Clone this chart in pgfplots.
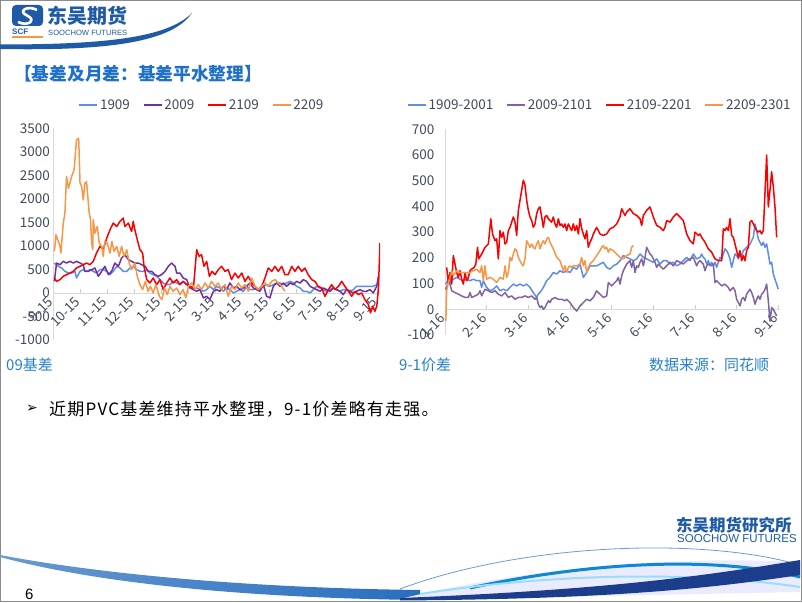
\documentclass[border=0pt]{standalone}
\usepackage{pgfplots}
\pgfplotsset{compat=1.18}
\usepackage{fontspec}
\setmainfont{Noto Sans CJK SC}
\newfontfamily\bodyfont[LetterSpace=7]{Noto Sans CJK SC}
\newfontfamily\lib{Liberation Sans}
\newfontfamily\dv{DejaVu Sans}
\definecolor{tickc}{RGB}{64,72,90}
\definecolor{capblue}{RGB}{38,128,205}
\definecolor{titleblue}{RGB}{31,112,200}
\definecolor{logoblue}{RGB}{31,90,166}
\definecolor{cBlue}{RGB}{95,140,230}
\definecolor{cPurple}{RGB}{112,48,160}
\definecolor{cPurple2}{RGB}{128,100,162}
\definecolor{cRed}{RGB}{250,0,0}
\definecolor{cOrange}{RGB}{247,150,70}
\definecolor{navy}{RGB}{28,60,140}
\definecolor{wave}{RGB}{40,110,190}
\pgfplotsset{
  base/.style={
    scale only axis,
    axis x line=middle, axis y line=left,
    axis line style={-, draw=black!15, line width=0.8pt},
    x axis line style={-}, y axis line style={-},
    every inner x axis line/.append style={-},
    every outer y axis line/.append style={-},
    hide obscured x ticks=false,
    tick label style={font=\fontsize{13.5}{14}\selectfont, text=tickc},
    /pgf/number format/assume math mode=true,
    /pgf/number format/1000 sep={},
    xticklabel style={anchor=east, rotate=45, yshift=-3pt, xshift=-3pt},
    xtick style={draw=black!20, line width=0.6pt},
    ytick style={draw=none},
    tick align=inside, major tick length=4pt,
    every axis plot/.append style={line width=1.5pt, line join=round, mark=none},
    legend columns=4,
    legend style={draw=none, fill=none, font=\fontsize{13.5}{14}\selectfont, text=tickc,
      /tikz/every even column/.append style={column sep=11pt}},
    legend image code/.code={\draw[##1, line width=1.5pt] (0pt,0pt) -- (18pt,0pt);},
  }
}
\begin{document}
\begin{tikzpicture}[x=1pt,y=1pt]
\path (0,0) rectangle (802,602);
% frame
\draw[black!45, line width=1pt] (0.5,0.5) rectangle (801.5,601.5);
% header logo
\fill[logoblue, rounded corners=4pt] (12,576) rectangle (43,597);
\draw[white, line width=2.6pt] (37,592) .. controls (28,597) and (17,591) .. (27,586.5) .. controls (37,582) and (28,575) .. (18,580);
\node[anchor=west, text=logoblue, font=\lib\bfseries\fontsize{8}{8}\selectfont, inner sep=0] at (12,570) {SCF};
\draw[cOrange, line width=1.2pt] (12,565) -- (43,565);
\node[anchor=west, text=logoblue, font=\bfseries\fontsize{20}{20}\selectfont, inner sep=0] at (47,586) {东吴期货};
\node[anchor=west, text=logoblue, font=\lib\fontsize{7.6}{8}\selectfont, inner sep=0] at (48,569.5) {SOOCHOW FUTURES};
\fill[logoblue] (0,553) .. controls (110,551) and (172,560) .. (192,589) .. controls (168,565) and (110,557.5) .. (0,557.5) -- cycle;
% title
\node[anchor=west, text=titleblue, font=\bfseries\fontsize{17.7}{18}\selectfont, inner sep=0] at (14,528) {【基差及月差：基差平水整理】};
% captions
\node[anchor=west, text=capblue, font=\fontsize{15}{16}\selectfont, inner sep=0] at (6,237) {09基差};
\node[anchor=west, text=capblue, font=\fontsize{15}{16}\selectfont, inner sep=0] at (399,237) {9-1价差};
\node[anchor=west, text=capblue, font=\fontsize{15}{16}\selectfont, inner sep=0] at (649,237) {数据来源：同花顺};
% bullet
\node[anchor=west, font=\dv\fontsize{14}{14}\selectfont, inner sep=0] at (26,193) {➢};
\node[anchor=west, font=\bodyfont\fontsize{17}{18}\selectfont, inner sep=0] at (49,193) {近期PVC基差维持平水整理，9-1价差略有走强。};
% page number
\node[anchor=south west, font=\lib\fontsize{15}{15}\selectfont, inner sep=0] at (25,2) {6};
% bottom waves
\shade[left color=wave!70, right color=wave] (0,47) .. controls (100,28) and (250,14) .. (420,12) -- (420,2) .. controls (250,4) and (100,18) .. (0,45) -- cycle;
\fill[blue!8] (400,3) .. controls (550,40) and (700,45) .. (800,40) -- (800,10) -- (400,2) -- cycle;
\draw[cyan!50!blue!60, line width=0.8pt] (400,13) .. controls (520,58) and (700,66) .. (800,37);
\draw[cyan!70!blue, line width=3pt] (470,14) .. controls (600,42) and (720,45) .. (800,25);
\draw[cyan!40, line width=2pt] (420,8) .. controls (560,30) and (700,30) .. (800,15);
\fill[navy] (400,4) .. controls (600,12) and (700,25) .. (800,42) -- (800,27) .. controls (700,12) and (600,3) .. (400,1.5) -- cycle;
\node[anchor=west, text=logoblue, font=\bfseries\fontsize{16.5}{17}\selectfont, inner sep=0] at (676,77) {东吴期货研究所};
\node[anchor=west, text=logoblue, font=\lib\fontsize{11.5}{12}\selectfont, inner sep=0] at (677,63) {SOOCHOW FUTURES};
% ---------------- left chart
\begin{axis}[base, at={(53.3pt,262pt)}, anchor=south west,
  width=326.7pt, height=211.7pt,
  xmin=0, xmax=12.1, ymin=-1000, ymax=3500,
  ytick={-1000,-500,0,500,1000,1500,2000,2500,3000,3500},
  xtick={0,...,12},
  xticklabels={9-15,10-15,11-15,12-15,1-15,2-15,3-15,4-15,5-15,6-15,7-15,8-15,9-15},
  legend style={at={(0.455,1.109)}, anchor=center}]
\addplot[cBlue] coordinates {(0.04,636)(0.19,566)(0.31,530)(0.43,460)(0.56,424)(0.68,424)(0.80,460)(0.86,318)(0.99,460)(1.11,495)(1.23,460)(1.36,495)(1.48,460)(1.60,424)(1.73,495)(1.85,495)(1.98,460)(2.10,389)(2.22,460)(2.35,566)(2.47,530)(2.59,460)(2.72,460)(2.84,530)(2.96,566)(3.09,495)(3.21,460)(3.33,460)(3.46,495)(3.58,424)(3.70,389)(3.83,354)(3.95,283)(4.07,212)(4.20,177)(4.32,177)(4.44,247)(4.57,212)(4.69,177)(4.81,247)(4.94,177)(5.06,141)(5.19,71)(5.31,106)(5.43,71)(5.56,35)(5.68,71)(5.80,141)(5.93,71)(6.05,141)(6.17,106)(6.30,35)(6.42,106)(6.54,71)(6.67,0)(6.79,35)(6.91,71)(7.04,35)(7.16,141)(7.28,71)(7.41,71)(7.53,106)(7.65,71)(7.78,141)(7.90,177)(8.02,141)(8.15,177)(8.27,212)(8.40,212)(8.52,177)(8.64,212)(8.77,247)(8.89,212)(9.01,141)(9.14,106)(9.26,35)(9.38,35)(9.51,0)(9.63,71)(9.75,141)(9.88,106)(10.00,71)(10.12,35)(10.25,71)(10.37,106)(10.49,71)(10.62,35)(10.74,71)(10.86,71)(10.99,35)(11.11,71)(11.23,141)(11.36,141)(11.48,141)(11.60,141)(11.73,141)(11.85,141)(11.98,177)(12.04,212)};
\addlegendentry{1909}
\addplot[cPurple] coordinates {(0.04,247)(0.12,636)(0.25,601)(0.37,672)(0.49,636)(0.62,672)(0.74,636)(0.86,672)(0.99,636)(1.11,601)(1.17,460)(1.30,460)(1.42,495)(1.54,530)(1.67,354)(1.79,460)(1.91,566)(2.04,389)(2.16,460)(2.28,636)(2.41,566)(2.53,742)(2.65,813)(2.78,707)(2.90,672)(3.02,636)(3.15,636)(3.27,601)(3.40,566)(3.52,460)(3.64,460)(3.77,389)(3.89,354)(4.01,389)(4.14,460)(4.26,566)(4.38,636)(4.51,566)(4.57,424)(4.69,424)(4.81,318)(4.94,283)(5.06,106)(5.19,71)(5.31,35)(5.43,71)(5.56,-106)(5.68,-71)(5.80,-141)(5.93,35)(6.05,71)(6.17,35)(6.30,141)(6.42,71)(6.54,212)(6.67,106)(6.79,141)(6.91,71)(7.04,106)(7.16,141)(7.28,212)(7.41,106)(7.53,71)(7.65,35)(7.78,177)(7.90,-71)(8.02,-106)(8.15,141)(8.27,212)(8.40,141)(8.52,212)(8.64,141)(8.77,212)(8.89,177)(9.01,247)(9.14,212)(9.26,283)(9.38,247)(9.51,141)(9.63,106)(9.75,71)(9.88,35)(10.00,106)(10.12,71)(10.25,35)(10.37,106)(10.49,71)(10.62,35)(10.74,-35)(10.86,71)(10.99,35)(11.11,0)(11.23,35)(11.36,71)(11.48,35)(11.60,35)(11.73,71)(11.85,0)(11.98,141)(12.04,354)};
\addlegendentry{2009}
\addplot[cRed] coordinates {(0.04,318)(0.12,247)(0.25,283)(0.37,354)(0.49,389)(0.62,424)(0.74,460)(0.86,530)(0.99,566)(1.11,601)(1.23,636)(1.36,601)(1.48,672)(1.60,848)(1.73,990)(1.85,919)(1.98,1167)(2.10,1343)(2.22,1485)(2.35,1414)(2.47,1520)(2.59,1591)(2.65,1414)(2.78,1485)(2.90,1308)(2.96,1520)(3.02,1343)(3.11,1131)(3.21,919)(3.31,848)(3.36,566)(3.46,283)(3.58,212)(3.70,318)(3.83,177)(3.95,283)(4.07,71)(4.20,212)(4.32,318)(4.44,212)(4.57,283)(4.69,177)(4.81,247)(4.94,177)(5.06,141)(5.19,106)(5.31,919)(5.40,778)(5.49,813)(5.58,566)(5.68,672)(5.78,354)(5.88,460)(5.99,389)(6.11,495)(6.23,566)(6.36,460)(6.48,495)(6.60,283)(6.73,424)(6.85,318)(6.98,424)(7.10,247)(7.22,354)(7.35,212)(7.47,141)(7.59,71)(7.72,141)(7.84,318)(7.96,530)(8.09,460)(8.21,566)(8.33,460)(8.46,566)(8.58,389)(8.70,389)(8.83,566)(8.95,460)(9.07,566)(9.20,460)(9.32,530)(9.44,389)(9.57,283)(9.69,247)(9.81,141)(9.94,106)(10.06,-71)(10.19,71)(10.31,177)(10.43,71)(10.56,141)(10.68,247)(10.80,141)(10.93,35)(11.05,-71)(11.17,35)(11.30,-35)(11.42,0)(11.54,-141)(11.67,-247)(11.75,-424)(11.83,-283)(11.91,-389)(11.98,-283)(12.04,71)(12.10,1060)};
\addlegendentry{2109}
\addplot[cOrange] coordinates {(0.04,884)(0.10,1237)(0.25,990)(0.28,848)(0.37,1485)(0.43,1697)(0.49,2475)(0.56,2227)(0.68,2475)(0.77,2616)(0.86,3252)(0.94,3288)(0.99,2333)(1.05,2262)(1.11,1980)(1.17,2333)(1.23,2368)(1.33,1697)(1.38,1555)(1.42,1060)(1.46,919)(1.48,1555)(1.54,1273)(1.63,1414)(1.70,1060)(1.79,990)(1.85,778)(1.91,1096)(2.00,1060)(2.10,848)(2.17,1096)(2.25,884)(2.35,990)(2.44,778)(2.53,990)(2.62,778)(2.72,919)(2.81,636)(2.90,495)(3.02,636)(3.11,354)(3.21,177)(3.31,71)(3.41,247)(3.51,35)(3.60,141)(3.70,0)(3.80,177)(3.93,-71)(4.02,-141)(4.12,106)(4.22,-35)(4.32,141)(4.44,35)(4.57,106)(4.69,-35)(4.81,71)(4.91,-106)(5.00,141)(5.12,212)(5.25,71)(5.37,177)(5.49,71)(5.62,212)(5.74,106)(5.86,247)(5.99,141)(6.11,212)(6.23,71)(6.36,177)(6.48,-71)(6.60,141)(6.73,71)(6.85,212)(6.98,106)(7.10,177)(7.22,35)(7.35,318)(7.47,141)(7.59,71)(7.72,141)(7.84,212)(7.96,141)(8.09,247)(8.21,283)(8.33,212)(8.46,141)(8.58,35)};
\addlegendentry{2209}
\end{axis}
% ---------------- right chart
\begin{axis}[base, at={(445pt,267pt)}, anchor=south west,
  width=335.4pt, height=205.7pt,
  xmin=0, xmax=8.05, ymin=-100, ymax=700,
  ytick={-100,0,100,200,300,400,500,600,700},
  yticklabel style={xshift=-7pt},
  xtick={0,...,8},
  xticklabels={1-16,2-16,3-16,4-16,5-16,6-16,7-16,8-16,9-16},
  legend style={at={(0.462,1.118)}, anchor=center}]
\addplot[cBlue] coordinates {(0.00,98)(0.04,104)(0.08,117)(0.12,104)(0.20,117)(0.28,124)(0.36,117)(0.44,111)(0.52,117)(0.60,111)(0.68,117)(0.76,111)(0.84,111)(0.88,85)(0.92,111)(1.00,85)(1.08,72)(1.16,78)(1.24,91)(1.32,72)(1.40,78)(1.48,72)(1.56,85)(1.64,98)(1.72,91)(1.80,98)(1.88,91)(1.96,98)(2.04,85)(2.12,65)(2.20,46)(2.24,59)(2.28,65)(2.36,85)(2.44,111)(2.52,124)(2.60,143)(2.68,137)(2.76,150)(2.84,143)(2.92,150)(3.00,143)(3.08,163)(3.16,156)(3.24,176)(3.32,124)(3.40,143)(3.48,169)(3.56,169)(3.64,169)(3.72,176)(3.80,183)(3.88,163)(3.96,156)(4.04,169)(4.12,176)(4.20,189)(4.28,209)(4.36,202)(4.44,196)(4.52,189)(4.60,196)(4.68,215)(4.76,202)(4.84,196)(4.92,189)(5.00,183)(5.08,196)(5.16,176)(5.24,189)(5.32,189)(5.40,176)(5.48,183)(5.56,169)(5.64,176)(5.72,189)(5.80,202)(5.88,189)(5.96,215)(6.04,196)(6.12,202)(6.16,215)(6.20,202)(6.24,196)(6.28,176)(6.32,189)(6.36,169)(6.40,183)(6.44,169)(6.48,183)(6.52,163)(6.56,183)(6.60,202)(6.64,196)(6.68,215)(6.72,235)(6.76,228)(6.80,215)(6.84,196)(6.88,163)(6.92,189)(6.96,215)(7.00,209)(7.04,196)(7.08,215)(7.12,209)(7.16,228)(7.24,241)(7.32,254)(7.40,280)(7.44,332)(7.48,306)(7.52,274)(7.56,261)(7.60,248)(7.64,261)(7.68,241)(7.72,254)(7.76,215)(7.80,176)(7.84,183)(7.88,137)(7.92,117)(7.96,98)(8.00,78)};
\addlegendentry{1909-2001}
\addplot[cPurple2] coordinates {(0.00,78)(0.04,85)(0.08,111)(0.12,98)(0.16,72)(0.24,65)(0.32,59)(0.40,52)(0.48,46)(0.56,46)(0.60,65)(0.64,46)(0.72,52)(0.80,59)(0.84,72)(0.88,52)(0.96,78)(1.04,72)(1.12,65)(1.20,72)(1.28,59)(1.36,52)(1.44,65)(1.52,46)(1.60,52)(1.68,39)(1.76,46)(1.84,46)(1.92,52)(2.00,46)(2.08,52)(2.16,39)(2.20,46)(2.24,20)(2.28,7)(2.32,13)(2.36,0)(2.40,7)(2.44,20)(2.48,33)(2.52,26)(2.56,39)(2.64,46)(2.72,39)(2.80,39)(2.88,33)(2.92,39)(3.00,26)(3.08,7)(3.16,-7)(3.24,13)(3.32,26)(3.40,39)(3.48,33)(3.56,46)(3.64,72)(3.68,65)(3.72,59)(3.80,46)(3.88,52)(3.92,104)(3.96,98)(4.00,91)(4.04,98)(4.12,111)(4.16,124)(4.20,98)(4.24,130)(4.28,150)(4.36,176)(4.44,189)(4.48,163)(4.52,189)(4.56,143)(4.60,169)(4.64,163)(4.68,183)(4.72,196)(4.76,169)(4.80,202)(4.84,241)(4.88,228)(4.92,215)(4.96,209)(5.00,196)(5.04,183)(5.08,163)(5.12,176)(5.16,169)(5.24,156)(5.32,169)(5.40,183)(5.48,169)(5.56,189)(5.64,183)(5.72,176)(5.80,189)(5.88,196)(5.96,202)(6.04,169)(6.08,183)(6.12,189)(6.20,176)(6.24,150)(6.28,169)(6.32,176)(6.40,169)(6.44,176)(6.48,104)(6.52,111)(6.60,98)(6.64,91)(6.72,98)(6.80,85)(6.84,72)(6.92,85)(6.96,72)(7.00,39)(7.04,26)(7.08,13)(7.12,39)(7.16,46)(7.20,33)(7.24,59)(7.32,78)(7.36,65)(7.40,46)(7.44,20)(7.48,39)(7.52,52)(7.56,39)(7.60,59)(7.64,65)(7.68,78)(7.72,98)(7.76,33)(7.80,-46)(7.84,7)(7.88,0)(7.92,-13)(7.96,-26)};
\addlegendentry{2009-2101}
\addplot[cRed] coordinates {(0.04,163)(0.08,104)(0.12,143)(0.16,98)(0.20,209)(0.24,176)(0.28,143)(0.32,124)(0.36,150)(0.40,117)(0.44,98)(0.48,143)(0.52,111)(0.56,124)(0.60,150)(0.64,156)(0.70,163)(0.74,176)(0.78,241)(0.81,196)(0.88,215)(0.96,241)(1.04,254)(1.10,352)(1.14,293)(1.20,267)(1.24,274)(1.28,196)(1.32,306)(1.36,280)(1.40,300)(1.44,254)(1.48,261)(1.52,306)(1.56,319)(1.60,339)(1.64,359)(1.68,339)(1.72,287)(1.76,385)(1.80,424)(1.84,463)(1.88,502)(1.92,482)(1.96,424)(2.00,385)(2.04,359)(2.08,345)(2.12,319)(2.16,332)(2.20,372)(2.24,391)(2.28,398)(2.32,359)(2.36,319)(2.40,359)(2.44,365)(2.48,352)(2.52,345)(2.56,339)(2.60,359)(2.64,332)(2.68,319)(2.72,352)(2.76,326)(2.80,332)(2.84,319)(2.88,332)(2.92,306)(2.96,332)(3.00,319)(3.04,306)(3.08,332)(3.12,306)(3.16,326)(3.20,293)(3.24,352)(3.28,313)(3.32,293)(3.36,274)(3.40,306)(3.44,241)(3.48,261)(3.52,274)(3.56,293)(3.64,319)(3.72,293)(3.80,287)(3.88,293)(3.96,313)(4.04,319)(4.12,332)(4.20,359)(4.24,391)(4.28,378)(4.32,365)(4.36,378)(4.44,391)(4.52,372)(4.60,365)(4.68,352)(4.72,326)(4.76,365)(4.84,385)(4.92,398)(5.00,359)(5.08,326)(5.16,319)(5.24,306)(5.28,319)(5.32,345)(5.40,339)(5.48,359)(5.56,372)(5.64,359)(5.72,345)(5.80,293)(5.88,267)(5.96,254)(6.00,300)(6.08,287)(6.12,293)(6.16,280)(6.24,261)(6.32,235)(6.40,222)(6.48,196)(6.56,189)(6.64,189)(6.68,313)(6.72,306)(6.76,319)(6.80,306)(6.84,352)(6.88,287)(6.92,280)(6.96,254)(7.00,228)(7.04,202)(7.08,228)(7.12,189)(7.16,209)(7.20,189)(7.24,228)(7.28,241)(7.32,339)(7.36,345)(7.40,332)(7.44,319)(7.48,306)(7.52,300)(7.56,306)(7.60,293)(7.64,306)(7.72,600)(7.76,398)(7.80,463)(7.84,535)(7.88,476)(7.92,398)(7.96,280)};
\addlegendentry{2109-2201}
\addplot[cOrange] coordinates {(0.02,-46)(0.04,72)(0.08,104)(0.12,124)(0.16,150)(0.20,130)(0.28,150)(0.36,143)(0.44,143)(0.52,143)(0.60,143)(0.68,150)(0.76,156)(0.84,143)(0.88,169)(0.92,111)(0.96,169)(1.00,117)(1.08,124)(1.16,117)(1.24,104)(1.32,124)(1.40,117)(1.44,169)(1.48,124)(1.52,143)(1.56,202)(1.60,189)(1.64,215)(1.68,235)(1.72,228)(1.76,202)(1.80,189)(1.84,176)(1.88,169)(1.92,196)(1.96,267)(2.00,254)(2.04,241)(2.08,254)(2.12,241)(2.16,235)(2.20,254)(2.24,267)(2.28,235)(2.32,254)(2.36,267)(2.40,254)(2.44,274)(2.48,280)(2.52,261)(2.60,235)(2.68,202)(2.76,189)(2.84,150)(2.88,169)(2.92,143)(2.96,163)(3.00,169)(3.04,163)(3.08,169)(3.16,169)(3.24,176)(3.28,202)(3.32,169)(3.36,189)(3.40,143)(3.44,163)(3.48,176)(3.52,183)(3.56,189)(3.64,209)(3.72,228)(3.76,241)(3.80,248)(3.84,235)(3.88,241)(3.92,222)(3.96,235)(4.04,228)(4.12,215)(4.20,202)(4.28,196)(4.36,209)(4.44,215)(4.48,241)(4.52,248)};
\addlegendentry{2209-2301}
\end{axis}
\end{tikzpicture}
\end{document}
